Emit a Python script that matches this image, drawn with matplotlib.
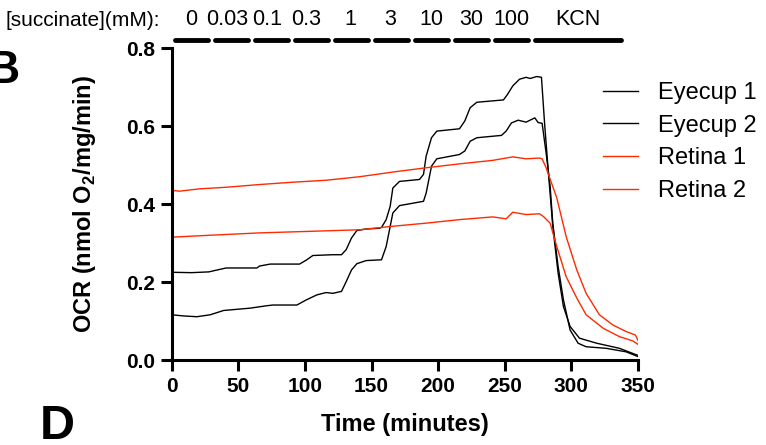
import matplotlib
matplotlib.use("Agg")
import matplotlib.pyplot as plt

plt.rcParams['font.family'] = ['Liberation Sans', 'DejaVu Sans']
plt.rcParams['mathtext.fontset'] = 'custom'
plt.rcParams['mathtext.rm'] = 'Liberation Sans'
plt.rcParams['mathtext.bf'] = 'Liberation Sans:bold'

# traces (time in minutes, OCR)
eyecup1_t = [0, 15, 28, 33, 41, 64, 66, 74, 96, 101, 106, 121, 127.5, 131, 135, 139, 146, 156, 157.5,
             161, 164, 166, 171, 186, 189, 191, 195, 199, 216, 220, 224, 229, 249, 252, 256, 261, 266,
             269, 274, 277.5, 280, 282.5, 286, 290, 294, 299, 306, 319, 336, 349, 350]
eyecup1_v = [0.225, 0.224, 0.226, 0.230, 0.236, 0.236, 0.241, 0.246, 0.246, 0.256, 0.268, 0.270, 0.270,
             0.283, 0.313, 0.332, 0.336, 0.338, 0.340, 0.360, 0.394, 0.441, 0.458, 0.463, 0.476, 0.523,
             0.570, 0.587, 0.593, 0.613, 0.647, 0.661, 0.667, 0.681, 0.703, 0.720, 0.725, 0.722, 0.727,
             0.725, 0.600, 0.490, 0.343, 0.223, 0.137, 0.086, 0.056, 0.043, 0.030, 0.013, 0.012]

eyecup2_t = [0, 9, 19, 29, 39, 49, 59, 71, 76, 94, 101, 109, 116, 121, 127.5, 131, 135, 139, 146, 157.5,
             161, 166, 171, 189, 191, 195, 199, 216, 220, 224, 229, 247.5, 251, 255, 260, 266, 272.5,
             275, 278, 281, 284, 286, 290, 294, 299, 305, 311, 326, 341, 349, 350]
eyecup2_v = [0.116, 0.113, 0.111, 0.116, 0.127, 0.130, 0.133, 0.139, 0.141, 0.141, 0.154, 0.167, 0.173,
             0.171, 0.176, 0.201, 0.231, 0.247, 0.255, 0.257, 0.291, 0.377, 0.396, 0.407, 0.428, 0.497,
             0.516, 0.527, 0.536, 0.561, 0.570, 0.576, 0.587, 0.608, 0.615, 0.610, 0.621, 0.609, 0.607,
             0.531, 0.446, 0.351, 0.240, 0.154, 0.077, 0.043, 0.034, 0.030, 0.021, 0.010, 0.009]

retina1_t = [0, 6, 21, 41, 66, 91, 116, 141, 166, 191, 216, 241, 256, 266, 276, 278, 281, 289, 296,
             304, 311, 321, 331, 341, 348, 350]
retina1_v = [0.435, 0.433, 0.439, 0.443, 0.450, 0.456, 0.461, 0.470, 0.482, 0.493, 0.503, 0.512, 0.521,
             0.516, 0.518, 0.516, 0.493, 0.416, 0.317, 0.231, 0.171, 0.116, 0.090, 0.073, 0.064, 0.050]

retina2_t = [0, 29, 66, 104, 141, 166, 191, 216, 241, 251, 256, 266, 276, 279, 284, 289, 296, 304, 311,
             324, 336, 346, 350]
retina2_v = [0.315, 0.320, 0.326, 0.330, 0.334, 0.343, 0.351, 0.360, 0.367, 0.362, 0.379, 0.373, 0.375,
             0.368, 0.351, 0.291, 0.214, 0.159, 0.116, 0.081, 0.060, 0.049, 0.040]

# succinate additions
step_edges = [0, 30, 60, 90, 120, 150, 180, 210, 240, 270, 340]
step_labels = ['0', '0.03', '0.1', '0.3', '1', '3', '10', '30', '100', 'KCN']
step_label_t = [15, 42, 72, 101, 134, 164, 195, 225, 255, 305]

red = '#ff2a00'

fig = plt.figure(figsize=(7.66, 4.45), dpi=100)
ax = fig.add_axes([0.224, 0.191, 0.609, 0.701])

ax.plot(eyecup1_t, eyecup1_v, color='black', lw=1.0, label='Eyecup 1')
ax.plot(eyecup2_t, eyecup2_v, color='black', lw=1.0, label='Eyecup 2')
ax.plot(retina1_t, retina1_v, color=red, lw=1.0, label='Retina 1')
ax.plot(retina2_t, retina2_v, color=red, lw=1.0, label='Retina 2')

ax.set_xlim(0, 350)
ax.set_ylim(0, 0.8)
ax.set_xticks(range(0, 351, 50))
ax.set_yticks([0.0, 0.2, 0.4, 0.6, 0.8])
ax.set_yticklabels(['0.0', '0.2', '0.4', '0.6', '0.8'])

for s in ['top', 'right']:
    ax.spines[s].set_visible(False)
for s in ['left', 'bottom']:
    ax.spines[s].set_linewidth(2.2)
ax.tick_params(direction='out', length=8, width=2.2, labelsize=15, pad=4)
for lbl in ax.get_xticklabels() + ax.get_yticklabels():
    lbl.set_fontweight('bold')

ax.set_xlabel('Time (minutes)', fontsize=17, fontweight='bold')
ax.xaxis.set_label_coords(0.5, -0.17)
ax.set_ylabel(r'OCR (nmol O$_\mathbf{2}$/mg/min)', fontsize=17, fontweight='bold')
ax.yaxis.set_label_coords(-0.158, 0.5)

# bars and labels for the additions
for i in range(len(step_labels)):
    a, b = step_edges[i], step_edges[i + 1]
    ax.plot([a + 2.5, b - 2.5], [0.82, 0.82], color='black', lw=3.5,
            solid_capstyle='round', clip_on=False)
    ax.text(step_label_t[i], 0.873, step_labels[i], ha='center', va='center',
            fontsize=15.5, clip_on=False)
fig.text(160 / 766, 1 - 20 / 445, '[succinate](mM):', ha='right', va='center', fontsize=15)

ax.legend(loc='upper left', bbox_to_anchor=(603 / 766, 1 - 82 / 445),
          bbox_transform=fig.transFigure, frameon=False, fontsize=17,
          handlelength=1.5, handletextpad=0.85, labelspacing=0.45,
          borderpad=0, borderaxespad=0)

fig.text(20 / 766, 1 - 83 / 445, 'B', fontsize=33, fontweight='bold', ha='right', va='baseline')
fig.text(40 / 766, 1 - 439 / 445, 'D', fontsize=35, fontweight='bold', ha='left', va='baseline')

fig.savefig('out.png', dpi=100)
